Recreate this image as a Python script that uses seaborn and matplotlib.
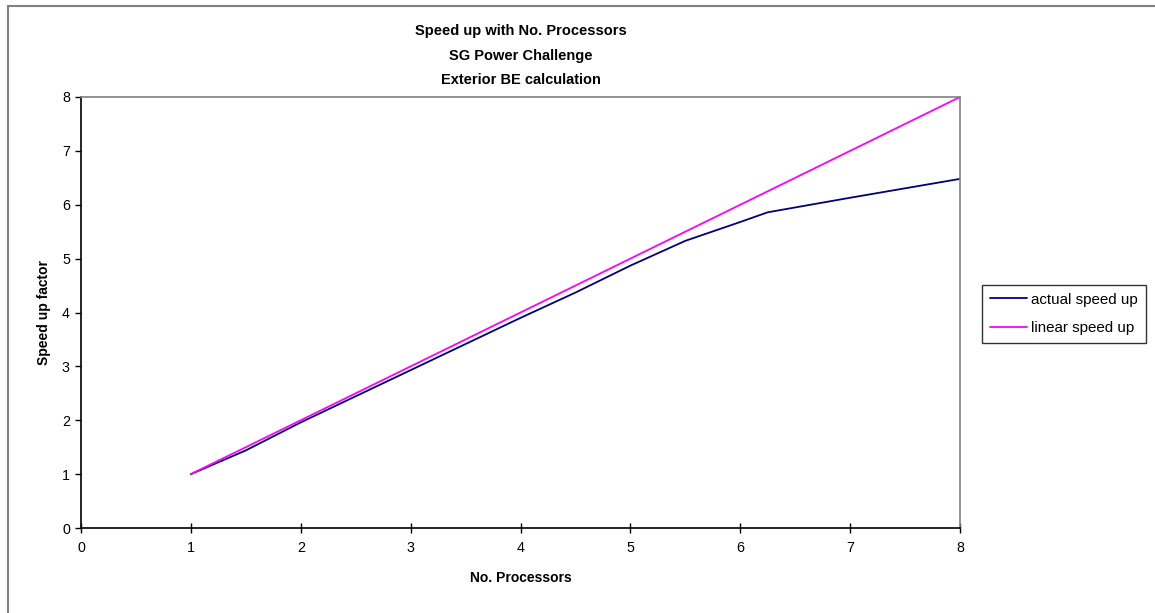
import matplotlib
matplotlib.use("Agg")
import matplotlib.pyplot as plt
import seaborn as sns
import pandas as pd
from matplotlib.patches import Rectangle
from matplotlib.lines import Line2D

# Data
actual_x = [1, 1.5, 2, 3, 4, 4.5, 5, 5.5, 6, 6.25, 7, 8]
actual_y = [1, 1.44, 1.96, 2.93, 3.90, 4.37, 4.87, 5.33, 5.68, 5.86, 6.13, 6.48]
linear_x = [1, 2, 3, 4, 5, 6, 7, 8]
linear_y = [1, 2, 3, 4, 5, 6, 7, 8]
series_names = ["actual speed up", "linear speed up"]
x_ticks = [0, 1, 2, 3, 4, 5, 6, 7, 8]
y_ticks = [0, 1, 2, 3, 4, 5, 6, 7, 8]
title_lines = ["Speed up with No. Processors", "SG Power Challenge", "Exterior BE calculation"]

df = pd.concat([
    pd.DataFrame({"x": actual_x, "y": actual_y, "series": series_names[0]}),
    pd.DataFrame({"x": linear_x, "y": linear_y, "series": series_names[1]}),
], ignore_index=True)

sns.set_theme(style="white")
plt.rcParams["font.family"] = ["Liberation Sans", "DejaVu Sans"]
plt.rcParams["text.color"] = "black"
plt.rcParams["axes.labelcolor"] = "black"
plt.rcParams["xtick.color"] = "black"
plt.rcParams["ytick.color"] = "black"

W, H = 1155, 613
fig = plt.figure(figsize=(W / 100, H / 100), dpi=100)
ax = fig.add_axes([81 / W, 1 - 528 / H, (960 - 81) / W, (528 - 97) / H])

sns.lineplot(data=df, x="x", y="y", hue="series", sort=False,
             palette={series_names[0]: "#000080", series_names[1]: "#FF00FF"},
             linewidth=1.3, ax=ax, legend=False, estimator=None)

ax.set_xlim(0, 8)
ax.set_ylim(0, 8)
ax.set_xticks(x_ticks)
ax.set_yticks(y_ticks)
ax.tick_params(axis="x", direction="inout", length=7, width=1, colors="black",
               labelsize=10.3, pad=6, bottom=True)
ax.tick_params(axis="y", direction="out", length=4, width=1, colors="black",
               labelsize=10.3, pad=4, left=True)
for s in ["top", "right"]:
    ax.spines[s].set_color("#808080")
    ax.spines[s].set_linewidth(1.2)
for s in ["left", "bottom"]:
    ax.spines[s].set_color("black")
    ax.spines[s].set_linewidth(1.2)
ax.grid(False)

ax.set_xlabel("No. Processors", fontsize=10, fontweight="bold", labelpad=11.5, color="black")
ax.set_ylabel("Speed up factor", fontsize=10, fontweight="bold", labelpad=7.5, color="black")

cx = (81 + 960) / 2 / W
for i, t in enumerate(title_lines):
    fig.text(cx, 1 - (31.5 + 24.5 * i) / H, t, ha="center", va="center",
             fontsize=10.5, fontweight="bold", color="black")

handles = [Line2D([], [], color="#000080", lw=1.3), Line2D([], [], color="#FF00FF", lw=1.3)]
leg = fig.legend(handles, series_names, loc="upper left",
                 bbox_to_anchor=(982 / W, 1 - 285 / H), fontsize=10.9,
                 frameon=True, fancybox=False, edgecolor="black",
                 handlelength=2.45, handletextpad=0.3, borderpad=0.5,
                 labelspacing=0.95, borderaxespad=0)
leg.get_frame().set_linewidth(1.0)
for t in leg.get_texts():
    t.set_color("black")

fig.patches.append(Rectangle((8 / W, -0.1), 1.2, 1 - 6 / H + 0.1, transform=fig.transFigure,
                             fill=False, edgecolor="#808080", linewidth=1.5))

fig.savefig("out.png", dpi=100, facecolor="white")
